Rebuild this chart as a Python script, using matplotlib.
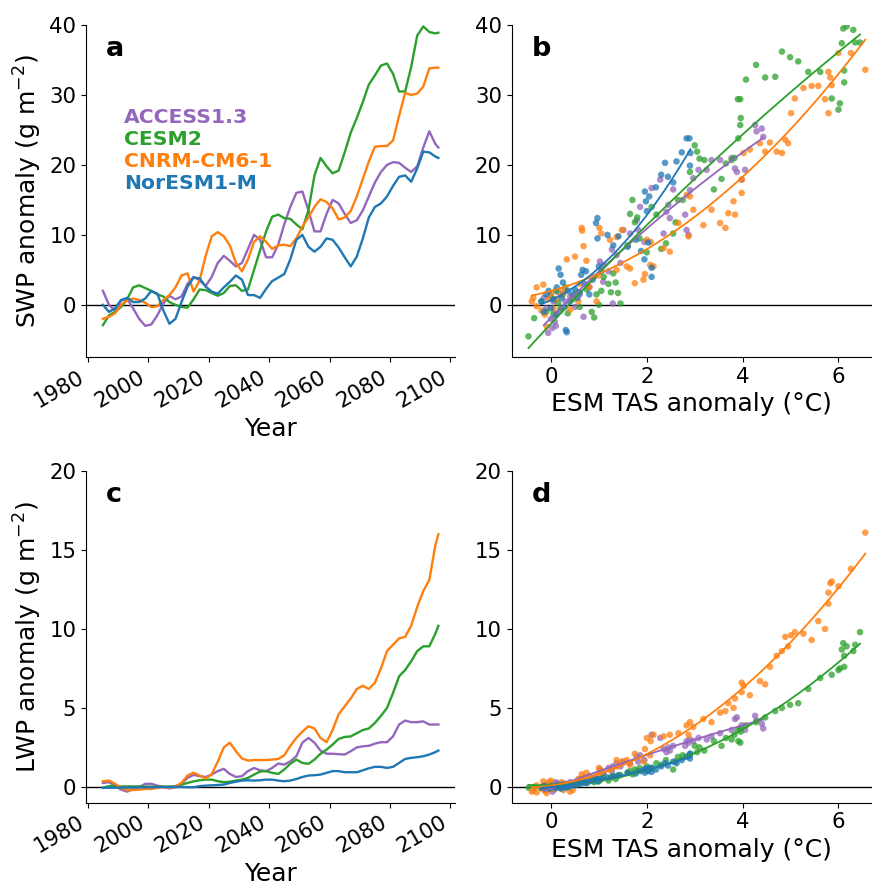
import numpy as np
import matplotlib
matplotlib.use("Agg")
import matplotlib.pyplot as plt

plt.rcParams['font.family'] = ['DejaVu Sans']

MODELS = ["ACCESS1.3", "CESM2", "CNRM-CM6-1", "NorESM1-M"]
COLORS = ["#9467bd", "#2ca02c", "#ff7f0e", "#1f77b4"]

YEARS = [1985, 1987, 1989, 1991, 1993, 1995, 1997, 1999, 2001, 2003,
         2005, 2007, 2009, 2011, 2013, 2015, 2017, 2019, 2021, 2023,
         2025, 2027, 2029, 2031, 2033, 2035, 2037, 2039, 2041, 2043,
         2045, 2047, 2049, 2051, 2053, 2055, 2057, 2059, 2061, 2063,
         2065, 2067, 2069, 2071, 2073, 2075, 2077, 2079, 2081, 2083,
         2085, 2087, 2089, 2091, 2093, 2095, 2096]

# ---- panel a: SWP anomaly time series (smoothed)
SWP_ACCESS = [2.0, 0.0, -0.8, 0.6, 0.9, -0.5, -2.0, -3.0, -2.8, -1.5,
              0.2, 1.3, 0.8, 1.2, 3.0, 4.0, 3.5, 2.7, 4.0, 6.0,
              7.0, 6.3, 5.5, 6.0, 8.0, 10.0, 9.3, 6.8, 6.8, 8.6,
              11.5, 14.0, 16.0, 16.2, 13.5, 10.5, 10.5, 13.0, 15.0, 14.5,
              13.0, 11.7, 12.1, 13.5, 15.5, 17.5, 19.0, 20.0, 20.4, 20.3,
              19.6, 19.0, 19.8, 22.5, 24.8, 23.0, 22.5]
SWP_CESM2 = [-2.9, -1.5, -1.0, -0.3, 0.8, 2.5, 2.8, 2.4, 2.0, 1.5,
             1.2, 0.4, 0.0, -0.3, -0.4, 0.8, 2.2, 2.1, 1.7, 1.3,
             1.7, 2.7, 2.8, 2.0, 2.2, 5.0, 7.8, 10.5, 12.6, 12.9,
             12.4, 12.3, 11.5, 10.8, 13.5, 18.5, 21.0, 19.8, 18.8, 19.2,
             21.8, 24.6, 26.7, 29.0, 31.5, 32.8, 34.2, 34.5, 33.0, 30.5,
             30.5, 34.0, 38.5, 39.8, 39.0, 38.8, 38.9]
SWP_CNRM = [-2.0, -1.7, -1.2, 0.0, 0.6, 0.9, 0.7, 0.3, -0.3, -0.2,
            0.7, 1.4, 2.5, 4.2, 4.5, 1.9, 3.5, 7.0, 9.8, 10.4,
            9.8, 8.5, 6.0, 4.8, 6.5, 9.0, 9.8, 9.0, 8.0, 8.5,
            8.6, 8.4, 9.5, 11.2, 12.5, 14.0, 15.1, 14.7, 13.8, 12.2,
            12.5, 13.4, 15.5, 18.0, 20.5, 22.6, 22.7, 22.7, 23.5, 27.0,
            30.3, 30.0, 30.2, 31.2, 33.8, 33.9, 33.9]
SWP_NORESM = [0.0, -1.0, -0.5, 0.7, 1.0, 0.4, 0.4, 0.9, 2.0, 1.6,
              -0.8, -2.7, -2.0, 0.4, 2.6, 3.9, 3.8, 2.6, 1.9, 1.6,
              2.5, 3.3, 4.2, 3.6, 1.4, 1.4, 1.0, 2.3, 3.4, 3.9,
              4.4, 6.5, 9.3, 10.0, 8.3, 7.6, 8.3, 9.5, 9.3, 8.2,
              6.8, 5.5, 6.9, 9.5, 12.5, 14.0, 14.5, 15.5, 17.0, 18.3,
              18.5, 17.6, 19.5, 21.9, 21.8, 21.2, 21.0]

# ---- panel c: LWP anomaly time series (smoothed)
LWP_ACCESS = [0.25, 0.3, 0.08, -0.17, -0.3, -0.13, 0.0, 0.19, 0.2, 0.08,
              0.0, -0.1, 0.0, 0.2, 0.57, 0.76, 0.68, 0.63, 0.78, 1.0,
              1.14, 0.82, 0.63, 0.68, 1.0, 1.2, 1.05, 1.0, 1.2, 1.48,
              1.41, 1.62, 1.94, 2.8, 3.1, 2.8, 2.3, 2.1, 2.1, 2.07,
              2.05, 2.26, 2.5, 2.57, 2.6, 2.74, 2.83, 2.83, 3.2, 3.95,
              4.2, 4.1, 4.1, 4.15, 3.95, 3.95, 3.95]
LWP_CESM2 = [-0.05, 0.05, 0.05, 0.03, 0.03, 0.03, 0.03, 0.02, 0.02, 0.02,
             0.02, 0.02, 0.05, 0.15, 0.25, 0.35, 0.42, 0.46, 0.46, 0.36,
             0.3, 0.33, 0.4, 0.46, 0.57, 0.78, 0.97, 1.0, 0.89, 0.82,
             1.1, 1.46, 1.73, 1.52, 1.46, 1.73, 2.1, 2.36, 2.68, 3.04,
             3.16, 3.2, 3.4, 3.6, 3.7, 4.05, 4.5, 5.0, 5.95, 7.0,
             7.4, 7.95, 8.6, 8.9, 8.9, 9.7, 10.2]
LWP_CNRM = [0.36, 0.4, 0.2, -0.06, -0.2, -0.2, -0.17, -0.13, -0.13, -0.06,
            0.0, -0.06, 0.04, 0.25, 0.72, 0.9, 0.72, 0.53, 0.8, 1.6,
            2.5, 2.8, 2.26, 1.8, 1.67, 1.7, 1.7, 1.7, 1.73, 1.77,
            2.0, 2.6, 3.1, 3.5, 3.84, 3.7, 3.1, 2.83, 3.6, 4.6,
            5.1, 5.6, 6.2, 6.4, 6.2, 6.6, 7.5, 8.6, 9.0, 9.4,
            9.5, 10.2, 11.4, 12.4, 13.1, 15.3, 16.0]
LWP_NORESM = [-0.06, -0.05, -0.05, -0.05, -0.04, -0.03, -0.03, -0.02, -0.02, -0.01,
              -0.01, 0.0, 0.0, 0.0, -0.02, -0.02, 0.05, 0.08, 0.1, 0.12,
              0.15, 0.25, 0.33, 0.4, 0.42, 0.4, 0.42, 0.46, 0.46, 0.4,
              0.36, 0.4, 0.5, 0.63, 0.72, 0.74, 0.78, 0.89, 1.0, 1.0,
              0.93, 0.93, 0.93, 1.05, 1.18, 1.27, 1.27, 1.2, 1.27, 1.52,
              1.77, 1.84, 1.88, 1.94, 2.05, 2.2, 2.3]

# ---- panels b, d: annual points vs ESM TAS anomaly
TAS_ACCESS = [-0.15, -0.10, -0.06, 0.00, 0.03, 0.05, 0.08, 0.10, 0.12, 0.15,
              0.20, 0.30, 0.40, 0.50, 0.60, 0.68, 0.80, 0.90, 1.02, 1.09,
              1.10, 1.20, 1.27, 1.29, 1.37, 1.45, 1.51, 1.65, 1.79, 1.82,
              1.86, 1.95, 2.10, 2.28, 2.35, 2.41, 2.45, 2.48, 2.55, 2.80,
              2.83, 2.87, 2.90, 2.97, 3.08, 3.25, 3.35, 3.53, 3.77, 3.84,
              3.88, 3.98, 4.05, 4.26, 4.29, 4.40, 4.43]
PTS_SWP_ACCESS = [1.0, -0.5, -4.0, -2.0, -3.3, 0.5, -2.4, -3.0, -1.2, 1.8,
                  -0.8, 0.5, 1.2, -0.3, 1.5, -1.7, 2.5, 4.0, 6.2, 3.3,
                  5.7, 4.8, 7.9, 0.2, 7.1, 6.0, 10.7, 10.2, 12.1, 10.7,
                  14.0, 9.0, 16.7, 17.9, 10.2, 13.3, 14.3, 12.4, 16.5, 12.9,
                  10.7, 10.0, 16.4, 18.1, 19.3, 19.3, 20.7, 20.7, 21.0, 19.5,
                  19.0, 17.9, 19.3, 25.7, 24.8, 25.2, 24.0]
PTS_LWP_ACCESS = [0.1, -0.2, -0.1, 0.05, -0.3, 0.2, -0.15, 0.3, 0.0, 0.2,
                  0.1, 0.2, 0.3, 0.25, 0.5, 0.4, 0.7, 0.6, 1.1, 0.8,
                  0.9, 1.2, 1.0, 1.3, 1.5, 1.3, 1.6, 1.5, 1.9, 1.6,
                  2.0, 1.7, 3.3, 3.1, 2.4, 2.2, 2.5, 2.3, 2.6, 2.6,
                  2.9, 2.8, 3.0, 2.9, 3.1, 3.0, 3.2, 3.4, 3.6, 4.3,
                  4.4, 3.9, 3.6, 4.5, 4.2, 4.0, 3.7]

TAS_CESM2 = [-0.47, -0.35, -0.20, -0.10, 0.00, 0.05, 0.10, 0.15, 0.20, 0.25,
             0.30, 0.35, 0.45, 0.55, 0.60, 0.75, 0.85, 0.90, 0.95, 1.00,
             1.05, 1.10, 1.20, 1.25, 1.30, 1.35, 1.40, 1.45, 1.60, 1.65,
             1.70, 1.75, 1.80, 1.85, 2.00, 2.10, 2.20, 2.30, 2.40, 2.55,
             2.60, 2.65, 2.75, 2.90, 3.00, 3.05, 3.10, 3.20, 3.40, 3.56,
             3.65, 3.77, 3.83, 3.91, 3.95, 3.96, 3.90, 3.95, 4.07, 4.28,
             4.47, 4.68, 4.82, 4.99, 5.16, 5.37, 5.62, 5.86, 6.00, 6.03,
             6.12, 6.07, 6.10, 6.17, 6.31, 6.35, 6.45, 6.12]
PTS_SWP_CESM2 = [-4.5, -1.9, 0.5, -1.0, 1.2, -1.3, 2.0, 0.3, -0.5, 1.5,
                 2.5, -1.2, 0.8, 1.8, -0.3, 2.2, -1.0, -1.8, 1.5, 0.0,
                 2.0, 4.0, 3.0, 1.8, 4.5, 3.2, 1.7, 0.2, 8.5, 13.0,
                 15.0, 11.8, 12.5, 9.5, 7.5, 14.0, 12.9, 8.0, 8.8, 10.2,
                 11.8, 15.0, 15.0, 19.0, 22.8, 21.9, 20.9, 20.7, 16.5, 18.0,
                 20.2, 20.7, 21.0, 23.8, 25.7, 26.7, 29.4, 29.4, 32.2, 34.3,
                 32.5, 32.6, 36.2, 35.4, 34.8, 33.3, 33.3, 29.5, 27.9, 28.8,
                 31.8, 37.4, 39.5, 39.8, 39.3, 37.5, 37.5, 33.5]
PTS_LWP_CESM2 = [-0.05, 0.0, -0.05, 0.1, -0.1, 0.05, 0.0, 0.1, -0.1, 0.1,
                 0.15, 0.0, 0.2, 0.15, 0.3, 0.25, 0.4, 0.3, 0.5, 0.35,
                 0.5, 0.6, 0.4, 0.6, 0.7, 0.5, 0.7, 0.75, 0.9, 1.0,
                 0.8, 1.1, 1.0, 1.2, 1.3, 1.2, 1.5, 1.4, 1.7, 1.1,
                 1.6, 1.9, 2.0, 2.1, 2.6, 2.2, 2.5, 2.3, 2.9, 2.6,
                 3.1, 3.0, 3.3, 2.9, 3.7, 3.5, 3.6, 2.8, 3.9, 4.1,
                 4.4, 4.8, 5.0, 5.2, 5.3, 6.2, 6.9, 7.1, 7.4, 7.5,
                 7.6, 8.7, 9.1, 8.9, 8.6, 9.0, 9.8, 8.3]

TAS_CNRM = [-0.40, -0.37, -0.30, -0.30, -0.20, -0.16, -0.13, -0.09, -0.05, 0.00,
            0.05, 0.10, 0.22, 0.26, 0.33, 0.40, 0.45, 0.50, 0.57, 0.60,
            0.64, 0.65, 0.68, 0.74, 0.80, 0.95, 1.00, 1.01, 1.05, 1.23,
            1.37, 1.37, 1.48, 1.58, 1.65, 1.75, 1.93, 1.96, 2.00, 2.07,
            2.08, 2.14, 2.35, 2.48, 2.66, 2.83, 2.87, 2.90, 2.97, 3.18,
            3.35, 3.53, 3.64, 3.70, 3.81, 3.84, 3.98, 3.98, 4.02, 4.15,
            4.36, 4.47, 4.57, 4.71, 4.82, 4.89, 4.95, 5.01, 5.09, 5.27,
            5.44, 5.58, 5.72, 5.79, 5.79, 5.83, 5.86, 6.00, 6.26, 6.56]
PTS_SWP_CNRM = [0.5, 1.0, 2.5, -0.2, -0.8, 2.9, -1.4, -3.1, 0.8, 1.6,
                -0.5, 0.8, 1.4, 2.1, 6.5, -0.7, 1.2, 6.9, 0.5, 3.0,
                11.0, 10.6, 8.4, 6.3, 2.6, 0.5, 4.2, 11.0, 10.2, 9.3,
                9.7, 5.0, 10.7, 5.5, 5.2, 3.1, 3.6, 4.4, 9.3, 5.7,
                9.0, 5.5, 8.1, 7.6, 11.7, 15.7, 9.8, 15.5, 13.6, 11.4,
                13.6, 11.7, 11.0, 13.1, 14.8, 12.9, 16.0, 17.9, 21.7, 22.2,
                23.1, 21.9, 23.2, 21.9, 21.7, 23.6, 23.1, 27.4, 29.5, 31.0,
                31.3, 31.3, 29.4, 27.4, 33.3, 32.5, 31.4, 36.0, 36.0, 33.6]
PTS_LWP_CNRM = [-0.3, -0.2, 0.1, -0.35, -0.1, 0.35, -0.25, -0.4, 0.3, 0.4,
                -0.1, 0.1, 0.3, -0.2, 0.05, -0.3, -0.2, 0.2, 0.5, 0.3,
                0.8, 0.4, 0.6, 0.9, 0.6, 0.7, 1.2, 0.9, 1.0, 1.1,
                1.7, 1.3, 1.6, 1.7, 1.4, 2.1, 1.6, 2.4, 3.1, 2.0,
                2.9, 3.3, 3.2, 3.3, 3.4, 3.9, 3.3, 4.1, 3.8, 4.3,
                4.1, 4.7, 4.8, 5.3, 5.0, 5.6, 6.6, 6.0, 6.4, 5.8,
                6.7, 6.5, 7.6, 8.3, 8.6, 9.5, 8.9, 9.6, 9.8, 9.7,
                9.3, 10.5, 10.0, 11.6, 12.3, 12.9, 13.0, 12.7, 13.8, 16.1]

TAS_NORESM = [-0.20, -0.15, -0.10, -0.05, 0.00, 0.05, 0.10, 0.12, 0.16, 0.20,
              0.22, 0.25, 0.28, 0.31, 0.33, 0.35, 0.40, 0.45, 0.50, 0.55,
              0.60, 0.63, 0.66, 0.70, 0.73, 0.80, 0.87, 0.94, 0.97, 0.97,
              1.00, 1.05, 1.18, 1.30, 1.41, 1.60, 1.77, 1.88, 1.95, 2.03,
              2.10, 2.10, 1.96, 1.98, 2.00, 2.05, 2.19, 2.30, 2.38, 2.44,
              2.55, 2.62, 2.73, 2.83, 2.89, 2.90, 2.91]
PTS_SWP_NORESM = [0.5, -1.0, 1.5, 2.0, -0.5, 0.8, -1.5, 2.5, 5.2, 4.3,
                  1.0, 3.2, -0.3, -3.6, -3.9, 2.0, 0.5, 1.5, 2.2, 1.0,
                  1.8, 4.3, 5.0, 3.0, 4.8, 1.5, 3.6, 11.7, 12.4, 9.5,
                  5.5, 4.8, 10.0, 8.5, 9.8, 8.3, 9.3, 7.7, 6.5, 8.9,
                  4.0, 5.3, 16.2, 14.8, 13.4, 15.5, 16.8, 18.6, 20.3, 18.3,
                  17.5, 20.5, 21.8, 23.8, 23.8, 19.9, 21.7]
PTS_LWP_NORESM = [-0.05, 0.05, 0.0, -0.1, 0.05, 0.0, -0.05, 0.1, 0.1, 0.0,
                  -0.1, 0.15, 0.05, -0.05, 0.1, 0.0, 0.05, 0.15, 0.1, 0.2,
                  0.3, 0.2, 0.35, 0.3, 0.25, 0.35, 0.4, 0.45, 0.5, 0.35,
                  0.45, 0.5, 0.6, 0.65, 0.75, 0.9, 0.85, 1.0, 1.1, 1.0,
                  1.2, 0.95, 0.9, 1.15, 1.05, 1.2, 1.1, 1.3, 1.5, 1.35,
                  1.6, 1.5, 1.7, 1.9, 2.0, 1.8, 2.1]

SWP_SERIES = [SWP_ACCESS, SWP_CESM2, SWP_CNRM, SWP_NORESM]
LWP_SERIES = [LWP_ACCESS, LWP_CESM2, LWP_CNRM, LWP_NORESM]
TAS_PTS = [TAS_ACCESS, TAS_CESM2, TAS_CNRM, TAS_NORESM]
SWP_PTS = [PTS_SWP_ACCESS, PTS_SWP_CESM2, PTS_SWP_CNRM, PTS_SWP_NORESM]
LWP_PTS = [PTS_LWP_ACCESS, PTS_LWP_CESM2, PTS_LWP_CNRM, PTS_LWP_NORESM]

TICK_FS = 15.3
LABEL_FS = 18
LETTER_FS = 19.5
LEGEND_FS = 14.7

W, H = 872, 888
fig = plt.figure(figsize=(W / 100, H / 100), dpi=100)


def px_axes(left, top, right, bottom):
    return fig.add_axes([left / W, 1 - bottom / H, (right - left) / W, (bottom - top) / H])


ax_a = px_axes(86, 25, 455, 357)
ax_b = px_axes(511.7, 25, 872, 357)
ax_c = px_axes(86, 471, 455, 802.7)
ax_d = px_axes(511.7, 471, 872, 802.7)

for ax in (ax_a, ax_b, ax_c, ax_d):
    ax.spines['top'].set_visible(False)
    ax.spines['right'].set_visible(False)
    ax.tick_params(labelsize=TICK_FS)
    ax.axhline(0, color='black', lw=1.0, zorder=1)

# time series
for ax, series in ((ax_a, SWP_SERIES), (ax_c, LWP_SERIES)):
    for vals, col in zip(series, COLORS):
        ax.plot(YEARS, vals, color=col, lw=1.7, zorder=3)
    ax.set_xlim(1979.4, 2101.5)
    ax.set_xticks([1980, 2000, 2020, 2040, 2060, 2080, 2100])
    for lab in ax.get_xticklabels():
        lab.set_rotation(30)
        lab.set_ha('right')
    ax.set_xlabel('Year', fontsize=LABEL_FS)

ax_a.set_ylim(-7.45, 40)
ax_a.set_yticks([0, 10, 20, 30, 40])
ax_a.set_ylabel('SWP anomaly (g m$^{-2}$)', fontsize=LABEL_FS)
ax_c.set_ylim(-1.0, 20)
ax_c.set_yticks([0, 5, 10, 15, 20])
ax_c.set_ylabel('LWP anomaly (g m$^{-2}$)', fontsize=LABEL_FS)

# scatter panels
for ax, ypts in ((ax_b, SWP_PTS), (ax_d, LWP_PTS)):
    for xs, ys, col in zip(TAS_PTS, ypts, COLORS):
        ax.scatter(xs, ys, s=22, color=col, alpha=0.75, edgecolors='none', zorder=2)
    for xs, ys, col in zip(TAS_PTS, ypts, COLORS):
        coef = np.polyfit(xs, ys, 2)
        xf = np.linspace(min(xs), max(xs), 100)
        ax.plot(xf, np.polyval(coef, xf), color=col, lw=1.3, zorder=4)
    ax.set_xlim(-0.82, 6.70)
    ax.set_xticks([0, 2, 4, 6])
    ax.set_xlabel('ESM TAS anomaly (°C)', fontsize=LABEL_FS)

ax_b.set_ylim(-7.45, 40)
ax_b.set_yticks([0, 10, 20, 30, 40])
ax_d.set_ylim(-1.0, 20)
ax_d.set_yticks([0, 5, 10, 15, 20])

for ax, letter in ((ax_a, 'a'), (ax_b, 'b'), (ax_c, 'c'), (ax_d, 'd')):
    ax.text(0.055, 0.928, letter, transform=ax.transAxes, fontsize=LETTER_FS,
            fontweight='bold', ha='left', va='center')

for i, (name, col) in enumerate(zip(MODELS, COLORS)):
    ax_a.text(0.103, 0.721 - i * 0.066, name, transform=ax_a.transAxes, color=col,
              fontsize=LEGEND_FS, fontweight='bold', ha='left', va='center')

fig.savefig('out.png', dpi=100)
